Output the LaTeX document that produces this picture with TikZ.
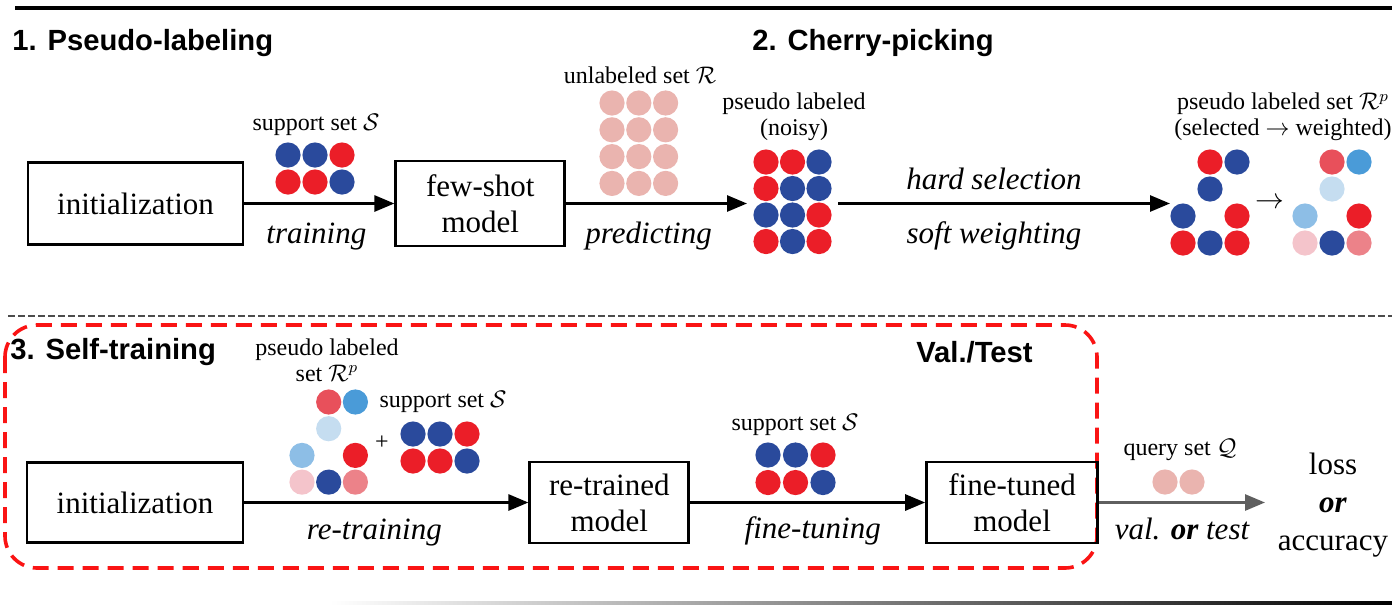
\documentclass[tikz,border=0pt]{standalone}
\usepackage{fontspec}
\setmainfont{Liberation Serif}
\newfontfamily\headfont{Liberation Sans}
\usepackage{tikz}
\usetikzlibrary{arrows.meta,positioning}
\definecolor{dotblue}{RGB}{42,74,156}
\definecolor{dotred}{RGB}{235,30,40}
\definecolor{dotpink}{RGB}{234,180,175}
\definecolor{wred}{RGB}{232,80,91}
\definecolor{wblue}{RGB}{74,155,216}
\definecolor{wpale}{RGB}{197,221,240}
\definecolor{wmid}{RGB}{141,190,230}
\definecolor{wpink}{RGB}{244,196,203}
\definecolor{wsalmon}{RGB}{236,130,137}
\definecolor{framered}{RGB}{250,20,20}
\definecolor{arrgray}{RGB}{95,95,95}

% row/col/colour list, first dot at (#1,#2), spacing #3
\newcommand{\dotgrid}[4]{%
  \foreach \r/\c/\dc in {#4} \fill[\dc] ({#1+\c*#3},{#2+\r*#3}) circle (6.3pt);}

\begin{document}
\begin{tikzpicture}[x=0.5pt,y=-0.5pt,
    every node/.style={font=\fontsize{15.5}{19}\selectfont},
    block/.style={draw,line width=1.4pt,minimum height=41pt,align=center,inner sep=2pt,
                  font=\fontsize{15.5}{18}\selectfont},
    arr/.style={-{Triangle[length=10pt,width=8pt]},line width=1.4pt},
    small/.style={font=\fontsize{12}{13}\selectfont,align=center},
    act/.style={font=\fontsize{15.5}{19}\selectfont\itshape},
    head/.style={font=\headfont\bfseries\fontsize{14.6}{16}\selectfont,anchor=west,inner sep=0pt}]
  \useasboundingbox (0,0) rectangle (1392,606);

  % rules
  \draw[line width=1.8pt] (15,8) -- (1392,8);
  \draw[gray!60!black,line width=1pt,dash pattern=on 3.5pt off 1.5pt] (8,316) -- (1392,316);
  \shade[left color=white,right color=black] (330,601.5) rectangle (1392,604.5);

  % 1. pseudo-labeling / 2. cherry-picking
  \node[head] (t1) at (12,43) {1. Pseudo-labeling};
  \node[head] (t2) at (752,43) {2. Cherry-picking};

  \node[block,minimum width=107.5pt] (init1) at (135.5,203.5) {initialization};
  \node[block,minimum width=84.5pt,minimum height=42.5pt,right=75pt of init1] (fewshot) {few-shot\\model};
  \coordinate (noisyin) at (747,203.5);
  \coordinate (noisyout) at (838,203.5);
  \coordinate (selin) at (1170,203.5);

  \draw[arr] (init1) -- (fewshot) node[act,midway,xshift=-1.5pt,yshift=-16.5pt] (lbltrain) {training};
  \draw[arr] (fewshot) -- (noisyin) node[act,midway,xshift=-4pt,yshift=-16.5pt] (lblpred) {predicting};
  \draw[arr] (noisyout) -- (selin)
       node[act,midway,xshift=-5pt,yshift=12.5pt] (lblhard) {hard selection}
       node[act,midway,xshift=-5pt,yshift=-16pt] (lblsoft) {soft weighting};

  \node[small] (supp1) at (316,125) {support set $\mathcal{S}$};
  \dotgrid{288}{155}{27}{0/0/dotblue,0/1/dotblue,0/2/dotred,1/0/dotred,1/1/dotred,1/2/dotblue}
  \node[small] (unlab) at (640,75) {unlabeled set $\mathcal{R}$};
  \dotgrid{612}{103}{26.8}{0/0/dotpink,0/1/dotpink,0/2/dotpink,1/0/dotpink,1/1/dotpink,1/2/dotpink,
    2/0/dotpink,2/1/dotpink,2/2/dotpink,3/0/dotpink,3/1/dotpink,3/2/dotpink}
  \node[small] (noisy) at (794,117) {pseudo labeled\\(noisy)};
  \dotgrid{766}{162}{26.5}{0/0/dotred,0/1/dotred,0/2/dotblue,1/0/dotred,1/1/dotblue,1/2/dotblue,
    2/0/dotblue,2/1/dotblue,2/2/dotred,3/0/dotred,3/1/dotblue,3/2/dotred}
  \node[small] (psel) at (1283,117) {pseudo labeled set $\mathcal{R}^p$\\(selected $\rightarrow$ weighted)};
  \dotgrid{1183}{162}{27}{0/1/dotred,0/2/dotblue,1/1/dotblue,2/0/dotblue,2/2/dotred,3/0/dotred,3/1/dotblue,3/2/dotred}
  \node[font=\fontsize{13.5}{15}\selectfont] (selarrow) at (1270,203) {$\rightarrow$};
  \dotgrid{1305}{162}{27}{0/1/wred,0/2/wblue,1/1/wpale,2/0/wmid,2/2/dotred,3/0/wpink,3/1/dotblue,3/2/wsalmon}

  % 3. self-training
  \draw[framered,line width=1.8pt,dash pattern=on 8pt off 4.5pt,rounded corners=16pt] (5,325) rectangle (1097,568);
  \node[head] (t3) at (10,352) {3. Self-training};
  \node[head,anchor=east] (t4) at (1033,352) {Val./Test};

  \node[block,minimum width=108pt,minimum height=40pt] (init2) at (135,502.5) {initialization};
  \node[block,minimum width=79.5pt,minimum height=40.5pt,right=142pt of init2] (retrained) {re-trained\\model};
  \node[block,minimum width=85.5pt,minimum height=40.5pt,right=117.5pt of retrained] (finetuned) {fine-tuned\\model};
  \coordinate (qout) at (1265,502.5);

  \draw[arr] (init2) -- (retrained) node[act,midway,xshift=-6pt,yshift=-15pt] (lblretrain) {re-training};
  \draw[arr] (retrained) -- (finetuned) node[act,midway,xshift=2.5pt,yshift=-14pt] (lblfine) {fine-tuning};
  \draw[arr,color=arrgray] (finetuned) -- (qout) node[act,midway,text=black,yshift=-13pt] (lblval) {val. \textbf{or} test};

  \node[small,inner sep=1pt] (pset2) at (327,360) {pseudo labeled\\set $\mathcal{R}^p$};
  \dotgrid{302}{402}{26.7}{0/1/wred,0/2/wblue,1/1/wpale,2/0/wmid,2/2/dotred,3/0/wpink,3/1/dotblue,3/2/wsalmon}
  \node[small] (plus) at (382,443) {+};
  \node[small] (supp2) at (443,402) {support set $\mathcal{S}$};
  \dotgrid{413}{434}{27}{0/0/dotblue,0/1/dotblue,0/2/dotred,1/0/dotred,1/1/dotred,1/2/dotblue}
  \node[small] (supp3) at (795,425) {support set $\mathcal{S}$};
  \dotgrid{768}{455}{27.5}{0/0/dotblue,0/1/dotblue,0/2/dotred,1/0/dotred,1/1/dotred,1/2/dotblue}
  \node[small] (query) at (1180,450) {query set $\mathcal{Q}$};
  \dotgrid{1165}{482}{27}{0/0/dotpink,0/1/dotpink}
  \node[align=center] (result) at (1333,505) {loss\\\textbf{\textit{or}}\\accuracy};
\end{tikzpicture}
\end{document}
